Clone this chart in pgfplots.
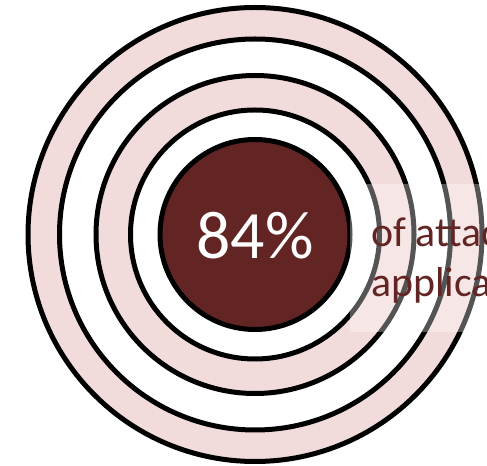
\documentclass[border=0pt]{standalone}
\usepackage{pgfplots}
\pgfplotsset{compat=1.18}
\usepackage{fontspec}
\setmainfont{Carlito}
\definecolor{ringpink}{HTML}{F2DCDB}
\definecolor{darkred}{HTML}{632523}
\begin{document}
\begin{tikzpicture}
\begin{axis}[
  width=487bp, height=466bp, scale only axis,
  xmin=0, xmax=487, ymin=0, ymax=466,
  axis lines=none, ticks=none, clip=true,
]
% concentric rings (radius in bp), outermost first
\addplot[only marks, mark=*, mark size=227bp, mark options={draw=black, fill=ringpink, line width=5bp}] coordinates {(255,231.5)};
\addplot[only marks, mark=*, mark size=195.5bp, mark options={draw=black, fill=white, line width=5bp}] coordinates {(255,231.5)};
\addplot[only marks, mark=*, mark size=159bp, mark options={draw=black, fill=ringpink, line width=5bp}] coordinates {(255,231.5)};
\addplot[only marks, mark=*, mark size=124.5bp, mark options={draw=black, fill=white, line width=5bp}] coordinates {(255,231.5)};
\addplot[only marks, mark=*, mark size=95bp, mark options={draw=black, fill=darkred, line width=5bp}] coordinates {(255,231.5)};
\coordinate (pct) at (axis cs:255,207);
\coordinate (boxA) at (axis cs:350,134);
\coordinate (boxB) at (axis cs:500,282);
\coordinate (lineA) at (axis cs:371,219);
\coordinate (lineB) at (axis cs:371,169);
\end{axis}
\node[anchor=base, inner sep=0pt, text=white, font=\fontsize{68}{80}\selectfont] at (pct) {84\%};
\fill[white, opacity=0.33] (boxA) rectangle (boxB);
\node[anchor=base west, inner sep=0pt, text=darkred, font=\fontsize{42}{50}\selectfont] at (lineA) {of attacks target};
\node[anchor=base west, inner sep=0pt, text=darkred, font=\fontsize{42}{50}\selectfont] at (lineB) {applications};
\pgfresetboundingbox
\path[use as bounding box] (0,0) rectangle (487bp,466bp);
\end{tikzpicture}
\end{document}
